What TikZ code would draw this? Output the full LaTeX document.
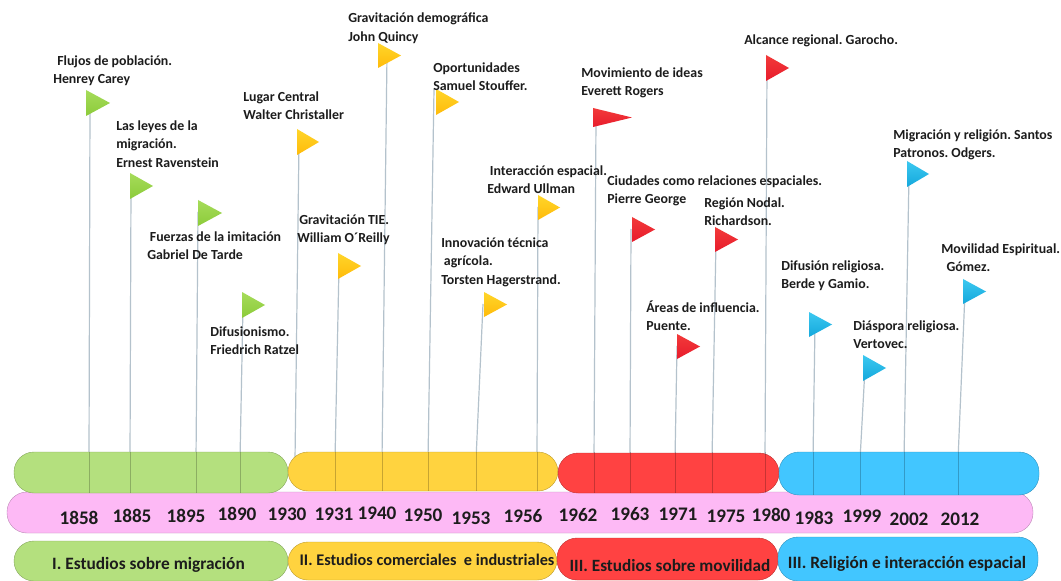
\documentclass[tikz,border=0pt]{standalone}
\usepackage{fontspec}
\setmainfont{Carlito}
\frenchspacing
\definecolor{colGb}{HTML}{B4E07E}
\definecolor{colYb}{HTML}{FFD33F}
\definecolor{colRb}{HTML}{FF4242}
\definecolor{colBb}{HTML}{42C6FF}
\definecolor{colPb}{HTML}{FDB9F5}
\definecolor{colGa}{HTML}{A6DC5A}
\definecolor{colGc}{HTML}{8CCB3A}
\definecolor{colYa}{HTML}{FFD52A}
\definecolor{colYc}{HTML}{FFBB0A}
\definecolor{colRa}{HTML}{F23A3A}
\definecolor{colRc}{HTML}{E81C2C}
\definecolor{colBa}{HTML}{3CC8F0}
\definecolor{colBc}{HTML}{14A8DC}
\definecolor{pole}{HTML}{B4C2CC}
\definecolor{ink}{HTML}{1C1C1C}
\tikzset{
 x=0.75pt,y=-0.75pt,
 lab/.style={font=\fontsize{10.4}{13.9}\selectfont\bfseries,text=ink,align=left,anchor=north west,inner sep=0pt,yshift=-1.1pt},
 year/.style={font=\fontsize{14.4}{16}\selectfont\bfseries,text=ink,inner sep=0pt},
 band/.style={font=\fontsize{13}{15}\selectfont\bfseries,text=ink,inner sep=0pt,yshift=-0.8pt},
 polel/.style={draw=pole,line width=0.9pt},
 polein/.style={draw=black,opacity=.22,line width=.5pt},
}
% name, pole x, pole top y, pole foot x, flag colours a c, left, top, tip x, bottom
\newcommand{\flagmark}[9]{%
 \coordinate (#1t) at (#2,#3);
 \coordinate (#1f) at (#4,460);
 \draw[polel] (#1t) -- (#1f);
 \flagtri{#5}{#6}{#7}{#8}{#9}%
}
\newcommand{\flagtri}[5]{% colour, left, top, tip x, bottom
 \shade[top color=col#1a,bottom color=col#1c] (#2,#3) -- (#4,#3/2+#5/2) -- (#2,#5) -- cycle;
}
\newcommand{\pill}[6]{% name x1 y1 x2 y2 colour
 \fill[#6,draw=#6!75!black,line width=0.3pt,rounded corners=15pt] (#2,#3) rectangle (#4,#5);
}
\begin{document}
\begin{tikzpicture}
\useasboundingbox (0,0) rectangle (1061,581);
\fill[white] (0,0) rectangle (1061,581);
% poles and flags
\flagmark{f1}{90}{103}{89}{G}{86}{90}{110}{116}
\flagmark{f2}{131}{186}{130}{G}{130}{173}{153}{199}
\flagmark{f3}{198}{212}{196}{G}{198}{200}{222}{226}
\flagmark{f4}{243}{305}{240}{G}{242}{292}{265}{318}
\flagmark{f5}{299}{142}{295}{Y}{297}{129}{319}{155}
\flagmark{f6}{339}{266}{335}{Y}{338}{253}{361}{279}
\flagmark{f7}{387}{55}{382}{Y}{378}{43}{401}{68}
\flagmark{f8}{434}{89}{428}{Y}{436}{89}{459}{115}
\flagmark{f9}{483}{304}{476}{Y}{484}{292}{507}{317}
\flagmark{f10}{538}{207}{537}{Y}{538}{195}{560}{220}
\flagmark{f11}{596}{118}{594}{R}{593}{108}{632}{127}
\flagmark{f12}{631}{229}{630}{R}{632}{217}{655}{242}
\flagmark{f13}{677}{346}{675}{R}{677}{334}{700}{359}
\flagmark{f14}{716}{240}{712}{R}{715}{227}{738}{252}
\flagmark{f15}{767}{68}{765}{R}{766}{55}{789}{81}
\flagmark{f16}{815}{324}{813}{B}{809}{312}{832}{337}
\flagmark{f17}{865}{368}{860}{B}{863}{355}{886}{381}
\flagmark{f18}{909}{174}{904}{B}{907}{161}{929}{187}
\flagmark{f19}{965}{292}{958}{B}{963}{279}{986}{304}
% labels
\node[lab] (l1) at (53,54) {\hspace{3pt}Flujos de población.\\Henrey Carey};
\node[lab] (l2) at (116,119) {Las leyes de la\\migración.\\Ernest Ravenstein};
\node[lab] (l3) at (147,230) {\hspace{2pt}Fuerzas de la imitación\\Gabriel De Tarde};
\node[lab] (l4) at (210,325) {Difusionismo.\\Friedrich Ratzel};
\node[lab] (l5) at (243,90) {Lugar Central\\Walter Christaller};
\node[lab] (l6) at (297,213) {\hspace{1.5pt}Gravitación TIE.\\William O´Reilly};
\node[lab] (l7) at (348,11) {Gravitación demográfica\\John Quincy};
\node[lab] (l8) at (433,61) {Oportunidades\\Samuel Stouffer.};
\node[lab] (l9) at (441,236) {Innovación técnica\\\hspace{2pt}agrícola.\\Torsten Hagerstrand.};
\node[lab] (l10) at (487,164) {\hspace{2pt}Interacción espacial.\\Edward Ullman};
\node[lab] (l11) at (581,66) {Movimiento de ideas\\Everett Rogers};
\node[lab] (l12) at (607,174) {Ciudades como relaciones espaciales.\\Pierre George};
\node[lab] (l13) at (646,299) {Áreas de influencia.\\Puente.};
\node[lab] (l14) at (704,196) {Región Nodal.\\Richardson.};
\node[lab] (l15) at (744,33) {Alcance regional. Garocho.};
\node[lab] (l16) at (781,259) {Difusión religiosa.\\Berde y Gamio.};
\node[lab] (l17) at (853,319) {Diáspora religiosa.\\Vertovec.};
\node[lab] (l18) at (893,128) {Migración y religión. Santos\\Patronos. Odgers.};
\node[lab] (l19) at (941,242) {Movilidad Espiritual.\\\hspace{4pt}Gómez.};
% pink bar
\pill{pb}{7}{492}{1033}{533}{colPb}
% upper bands
\pill{gb}{14}{452}{288}{493}{colGb}
\pill{yb}{288}{452}{558}{491}{colYb}
\pill{rb}{558}{453}{779}{493}{colRb}
\pill{bb}{779}{452}{1039}{495}{colBb}
% poles continuing over the upper bands
\foreach \n/\py in {f1/493,f2/493,f3/493,f4/493,f6/491,f7/491,f8/491,f9/491,f10/491,f11/493,f12/493,f13/493,f14/493,f15/493,f16/495,f17/495,f18/495,f19/495}{
 \draw[polein] ([yshift=6pt]\n f) -- ++(0,\py-452);
}
% lower bands
\pill{gl}{14}{541}{288}{581}{colGb}
\pill{yl}{288}{542}{557}{580}{colYb}
\pill{rl}{557}{538}{778}{580}{colRb}
\pill{bl}{778}{537}{1038}{581}{colBb}
% years
\foreach \t/\px/\py in {1858/79/518,1885/132/516,1895/186/516,1890/237/514,1930/287/514,1931/334/514,1940/377/513,1950/423/515,1953/471/518,1956/523/516,1962/578/515,1963/630/514,1971/678/514,1975/726/516,1980/771/515,1983/814/518,1999/862/516,2002/909/519,2012/960/519}{
 \node[year] (yr\t) at (\px,\py) {\t};
}
% band labels
\node[band] (t1) at (148.5,564) {I. Estudios sobre migración};
\node[band,font=\fontsize{12.2}{14}\selectfont\bfseries] (t2) at (427,559) {II. Estudios comerciales\ \ e industriales};
\node[band,font=\fontsize{12.9}{15}\selectfont\bfseries] (t3) at (670,564) {III. Estudios sobre movilidad};
\node[band] (t4) at (907,563) {III. Religión e interacción espacial};
\end{tikzpicture}
\end{document}
